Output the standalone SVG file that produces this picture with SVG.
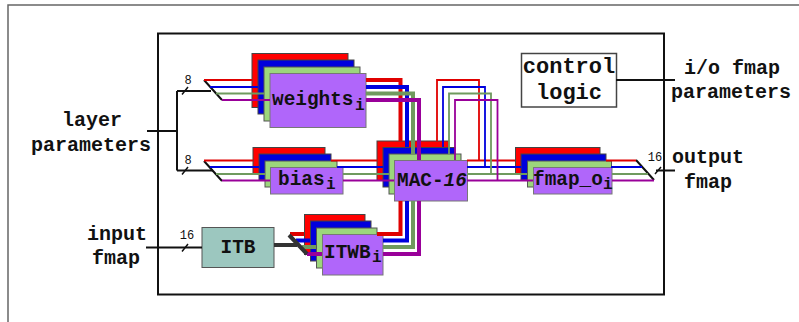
<svg xmlns="http://www.w3.org/2000/svg" width="799" height="322" viewBox="0 0 799 322">
<style>
text{font-family:"Liberation Mono","Courier New",monospace;font-weight:bold;fill:#111}
.l{font-size:20px;text-anchor:middle}
.n{font-size:19.4px}
.s{font-size:16px}
.w{font-size:12px;font-weight:normal;text-anchor:middle}
.r{fill:#ff0000;stroke:#444;stroke-width:1}
.b{fill:#0000dd;stroke:#444;stroke-width:1}
.g{fill:#9cd67c;stroke:#555;stroke-width:1}
.p{fill:#b066fa;stroke:#777;stroke-width:1}
path,line{fill:none}
.cr{stroke:#e00000}.cb{stroke:#0000dd}.cg{stroke:#6f9a5e}.cp{stroke:#990099}
.t2{stroke-width:1.8}.t4{stroke-width:4}
.k{stroke:#111;stroke-width:2}
.k1{stroke:#111;stroke-width:1.5}
</style>
<path d="M8 322V5H799" stroke="#666" stroke-width="1.5"/>
<rect id="main-box" x="158" y="33.500" width="506" height="261" fill="#fff" stroke="#111" stroke-width="2"/>
<g id="weights"><rect class="r" x="252" y="53.500" width="96" height="54"/><rect class="b" x="258" y="60" width="96" height="54"/><rect class="g" x="264" y="67" width="96" height="54"/><rect class="p" x="270" y="73.500" width="96" height="54"/><text class="n" x="272" y="105">weights</text><text class="s" x="355" y="110">i</text></g>
<g id="bias"><rect class="r" x="253" y="147.500" width="72" height="26"/><rect class="b" x="259" y="154" width="72" height="26"/><rect class="g" x="265" y="161" width="72" height="26"/><rect class="p" x="270.500" y="167.500" width="72.500" height="26.500"/><text class="n" x="278" y="185">bias</text><text class="s" x="326" y="189">i</text></g>
<g id="mac"><rect class="r" x="377" y="141" width="72" height="39.500"/><rect class="b" x="383" y="147.500" width="72" height="39.500"/><rect class="g" x="389" y="154" width="72" height="40"/><rect class="p" x="394.500" y="160.500" width="73" height="40.500"/><text class="n" x="397" y="186">MAC-<tspan font-style="italic">16</tspan></text></g>
<g id="fmap_o"><rect class="r" x="515.500" y="147.500" width="84.500" height="26"/><rect class="b" x="521" y="154" width="85" height="26"/><rect class="g" x="527.500" y="161" width="84" height="26"/><rect class="p" x="533.500" y="167.500" width="78.500" height="26.500"/><text class="n" x="533" y="185">fmap_o</text><text class="s" x="603" y="189">i</text></g>
<g id="itwb"><rect class="r" x="304.500" y="214.500" width="60.500" height="40"/><rect class="b" x="310.500" y="221" width="60.500" height="40"/><rect class="g" x="316.500" y="228" width="60.500" height="40"/><rect class="p" x="322.500" y="234.500" width="60.500" height="40.500"/><text class="n" x="324" y="258">ITWB</text><text class="s" x="372" y="262">i</text></g>
<g id="itb"><rect x="202" y="227.500" width="72" height="40" fill="#9cc7bf" stroke="#555" stroke-width="1"/><text class="n" x="238" y="253" text-anchor="middle">ITB</text></g>
<g id="control"><rect x="521.500" y="53.500" width="95" height="53.500" fill="#fff" stroke="#444" stroke-width="1.500"/><text x="569" y="73" font-size="22" text-anchor="middle">control</text><text x="569" y="99" font-size="22" text-anchor="middle">logic</text></g>
<g id="connectors">
<path class="k" d="M147 131H177M177 91V170.500M177 91H211M177 170.500H213"/>
<path class="k" d="M146 247.500H202M616 80H675M656 170.500H675"/>
<path class="k1" d="M182 94.500L188 87M182 174.500L188 167M182 251.500L188 244M655 174L661 167"/>
<path class="k" d="M204 80L222 100M204 161L222 181M636 160L654 180"/>
<path class="cr t2" d="M204 80H252"/><path class="cb t2" d="M210 87H258"/><path class="cg t2" d="M216 93.500H264"/><path class="cp t2" d="M222 100H270"/>
<path class="cr t2" d="M204 160.500H253M331 160.500H377"/><path class="cb t2" d="M210 167H259M337 167H383"/><path class="cg t2" d="M216 174H265M343 174H389"/><path class="cp t2" d="M222 180.500H270M343 180.500H394"/>
<path class="cr t2" d="M467 160.500H515M606 160.500H636"/><path class="cb t2" d="M467 167H521M611 167H642"/><path class="cg t2" d="M467 174H527M612 174H648"/><path class="cp t2" d="M467 180.500H533M612 180.500H654"/>
<path class="cr t2" d="M437 141V80H479V160.500"/><path class="cb t2" d="M443 147V87H485V167"/><path class="cg t2" d="M449 154V93.500H491V174"/><path class="cp t2" d="M455 160V100H497.500V180.500"/>
<path class="cr t4" d="M366 80H400.500V141"/><path class="cb t4" d="M366 87H407V147"/><path class="cg t4" d="M366 93.500H413V154"/><path class="cp t4" d="M366 100H419V160"/>
<path class="cr t4" d="M290 234H304M377 234H400.500V201"/><path class="cb t4" d="M296 240.500H310M383 240.500H407V201"/><path class="cg t4" d="M302 247H316M383 247H413V201"/><path class="cp t4" d="M307 254H322M383 254H419V201"/>
<path d="M274 245H297M289 235L307 254" stroke="#333" stroke-width="4"/>
</g>
<g id="labels">
<text class="l" x="92" y="126">layer</text><text class="l" x="91" y="151">parameters</text>
<text class="l" x="117" y="240">input</text><text class="l" x="116" y="264">fmap</text>
<text class="l" x="732" y="74">i/o fmap</text><text class="l" x="731" y="98">parameters</text>
<text class="l" x="708" y="163">output</text><text class="l" x="708" y="188">fmap</text>
<text class="w" x="188" y="84">8</text><text class="w" x="188" y="164">8</text><text class="w" x="187" y="239">16</text><text class="w" x="655" y="161">16</text>
</g>
</svg>
